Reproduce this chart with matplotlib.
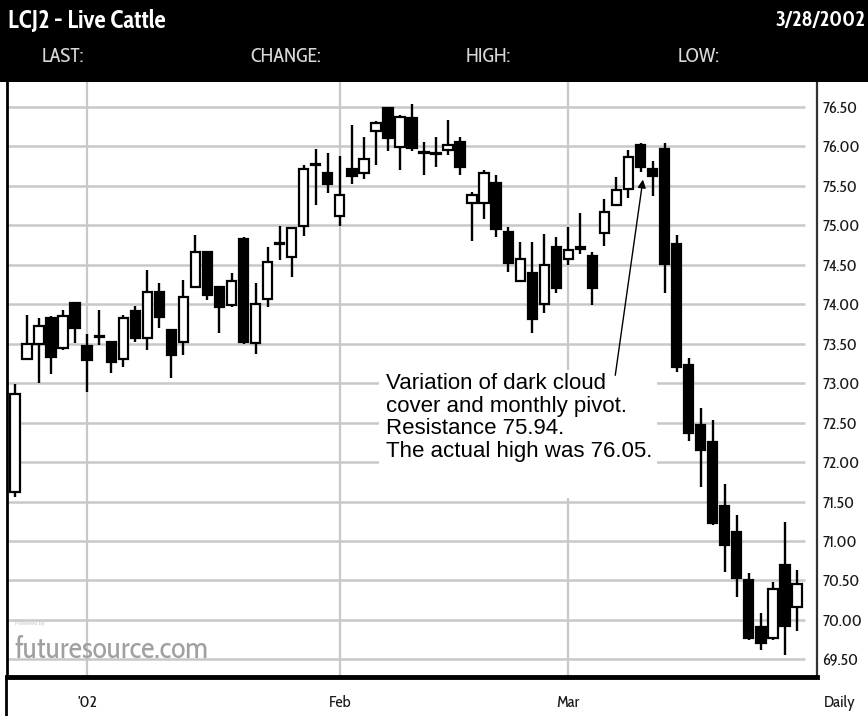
import matplotlib
matplotlib.use("Agg")
import matplotlib.pyplot as plt
import matplotlib.patheffects as pe
from matplotlib.patches import Rectangle
from matplotlib.lines import Line2D
from matplotlib import font_manager
from matplotlib.font_manager import FontProperties

# Daily OHLC for LCJ2 (Live Cattle), late Dec 2001 .. 3/28/2002
opens = [71.62, 73.31, 73.50, 73.83, 73.45, 74.02, 73.47, 73.60, 73.52, 73.31,
         73.91, 73.57, 74.16, 73.67, 73.52, 74.22, 74.66, 74.22, 73.99, 74.83,
         73.51, 74.07, 74.78, 74.60, 74.99, 75.76, 75.66, 75.12, 75.71, 75.66,
         76.20, 76.49, 75.99, 76.36, 75.93, 75.92, 75.96, 76.06, 75.28, 75.28,
         75.54, 74.92, 74.29, 74.40, 74.00, 74.73, 74.57, 74.70, 74.61, 74.90,
         75.26, 75.46, 76.02, 75.71, 75.97, 74.76, 73.23, 72.47, 72.25, 71.44,
         71.11, 70.51, 69.91, 69.77, 70.70, 70.16]
highs = [72.99, 73.86, 73.83, 73.85, 73.93, 74.03, 73.62, 73.93, 73.54, 73.86,
         73.98, 74.43, 74.27, 73.68, 74.31, 74.88, 74.68, 74.23, 74.40, 74.85,
         74.27, 74.73, 74.99, 74.98, 75.76, 75.97, 75.92, 75.88, 76.27, 76.12,
         76.32, 76.50, 76.40, 76.54, 76.06, 76.12, 76.34, 76.12, 75.42, 75.70,
         75.64, 74.98, 74.79, 74.79, 74.89, 74.85, 74.98, 75.16, 74.66, 75.33,
         75.61, 75.95, 76.05, 75.82, 76.05, 74.88, 73.32, 72.69, 72.53, 71.72,
         71.33, 70.59, 70.09, 70.48, 71.24, 70.63]
lows = [71.56, 73.29, 73.00, 73.12, 73.42, 73.51, 72.89, 73.48, 73.13, 73.20,
        73.52, 73.42, 73.70, 73.07, 73.36, 74.20, 74.05, 73.64, 73.97, 73.50,
        73.37, 73.97, 74.56, 74.35, 74.87, 75.26, 75.41, 74.99, 75.52, 75.59,
        75.76, 75.94, 75.70, 75.94, 75.64, 75.74, 75.89, 75.64, 74.80, 75.08,
        74.85, 74.41, 74.28, 73.64, 73.89, 74.14, 74.50, 74.64, 73.99, 74.74,
        75.25, 75.35, 75.68, 75.37, 74.14, 73.14, 72.27, 71.68, 71.20, 70.61,
        70.29, 69.75, 69.62, 69.75, 69.55, 69.86]
closes = [72.86, 73.50, 73.72, 73.33, 73.85, 73.70, 73.29, 73.58, 73.27, 73.83,
          73.57, 74.16, 73.84, 73.36, 74.09, 74.66, 74.12, 73.97, 74.29, 73.52,
          74.00, 74.54, 74.77, 74.97, 75.71, 75.77, 75.52, 75.38, 75.63, 75.84,
          76.30, 76.11, 76.37, 75.98, 75.92, 75.91, 76.02, 75.74, 75.38, 75.66,
          74.95, 74.52, 74.57, 73.81, 74.50, 74.21, 74.69, 74.72, 74.21, 75.17,
          75.45, 75.87, 75.74, 75.63, 74.51, 73.20, 72.37, 72.15, 71.23, 70.95,
          70.53, 69.77, 69.71, 70.39, 69.92, 70.45]

# Month boundaries (trading-day index) and their labels
month_idx = [6, 27, 46]
month_labels = ["'02", "Feb", "Mar"]

price_levels = [69.5, 70.0, 70.5, 71.0, 71.5, 72.0, 72.5, 73.0,
                73.5, 74.0, 74.5, 75.0, 75.5, 76.0, 76.5]
price_labels = [f"{p:.2f}" for p in price_levels]

header_fields = ["LAST:", "CHANGE:", "HIGH:", "LOW:"]
note = ("Variation of dark cloud\ncover and monthly pivot.\n"
        "Resistance 75.94.\nThe actual high was 76.05.")

W, H = 868, 716
fig = plt.figure(figsize=(W / 100, H / 100), dpi=100)
fig.patch.set_facecolor("white")
renderer = fig.canvas.get_renderer()


def fx(px):
    return px / W


def fy(py):
    return 1 - py / H


def text_width(text, size=10, **kw):
    probe = fig.text(0, 0, text, fontsize=size, **kw)
    w = probe.get_window_extent(renderer).width
    probe.remove()
    return w


def size_for(text, target_px, **kw):
    """Font size at which `text` spans about target_px pixels."""
    return 10.0 * target_px / text_width(text, **kw)


REGULAR = {400, "normal", "regular", "book"}
BOLD = {600, 700, 800, "bold", "semibold", "demibold"}


def narrow_font():
    """A regular-weight condensed sans, about as narrow as Arial Narrow."""
    entries = font_manager.fontManager.ttflist
    cands = set()
    for e in entries:
        if "Narrow" in e.name or "Condensed" in e.name:
            cands.add((e.name, "normal"))
        elif str(e.stretch) in ("condensed", "semi-condensed"):
            cands.add((e.name, e.stretch))
    em_px = 10 * 100 / 72.0
    best = ("Liberation Sans", "normal")
    best_score = abs(text_width("76.50", family="Liberation Sans") / em_px - 2.15) + 0.05
    for name, stretch in sorted(cands, key=str):
        faces = [e for e in entries if e.name == name
                 and (stretch == "normal" or e.stretch == stretch)]
        if not any(e.weight in REGULAR for e in faces):
            continue
        ratio = text_width("76.50", family=name, stretch=stretch) / em_px
        score = abs(ratio - 2.15) + (0 if any(e.weight in BOLD for e in faces) else 0.1)
        if score < best_score:
            best, best_score = (name, stretch), score
    return best


NARROW, STRETCH = narrow_font()
installed = {f.name for f in font_manager.fontManager.ttflist}
SANS = "Liberation Sans" if "Liberation Sans" in installed else "DejaVu Sans"
nkw = dict(family=NARROW, stretch=STRETCH)

regular_file = font_manager.findfont(FontProperties(**nkw))
bold_file = font_manager.findfont(FontProperties(weight="bold", **nkw))
if bold_file != regular_file:
    weight_kw, fx_kw = dict(fontweight="bold"), {}
else:
    # no bold cut of the condensed face: thicken the strokes instead
    weight_kw = {}
    fx_kw = dict(path_effects=[pe.withStroke(linewidth=1.4, foreground="white")])

# black header band
fig.patches.append(Rectangle((0, fy(82)), 1, 82 / H, transform=fig.transFigure,
                             facecolor="black", edgecolor="none", zorder=0))
title = "LCJ2 - Live Cattle"
fig.text(fx(8), fy(21), title, color="white",
         fontsize=size_for(title, 157, **nkw, **weight_kw),
         ha="left", va="center", **nkw, **weight_kw, **fx_kw)
fig.text(fx(865), fy(21), "3/28/2002", color="white",
         fontsize=size_for("3/28/2002", 90, **nkw, **weight_kw),
         ha="right", va="center", **nkw, **weight_kw, **fx_kw)
hdr_size = size_for("CHANGE:", 70, **nkw)
for label, cx in zip(header_fields, [63, 286, 488, 699]):
    fig.text(fx(cx), fy(57), label, color="#d8d8d8", fontsize=hdr_size,
             ha="center", va="center", **nkw)

ax = fig.add_axes([fx(7), 1 - 677 / H, 810 / W, 595 / H])
x_lo, x_hi = -0.665, 66.67
ax.set_xlim(x_lo, x_hi)
ax.set_ylim(69.276, 76.817)

grid_c = "#c8c8c8"
ax.hlines(price_levels, x_lo, 65.67, color=grid_c, lw=1.8, zorder=1)
for m in month_idx:
    ax.axvline(m, color=grid_c, lw=1.6, zorder=1)

# watermark
ax.text(0.0, 69.95, "Powered by", color="#c4c4c4",
        fontsize=size_for("Powered by", 30, family=SANS), family=SANS,
        ha="left", va="center", zorder=2)
ax.text(0.0, 69.62, "futuresource.com", color="#a0a0a0",
        fontsize=size_for("futuresource.com", 195, **nkw),
        ha="left", va="center", zorder=2, **nkw)

# annotation with a white backing box
ax.add_patch(Rectangle((30.3, 71.55), 23.1, 1.62, facecolor="white",
                       edgecolor="none", zorder=2))
ax.text(30.85, 73.13, note, family=SANS, color="black",
        fontsize=size_for("The actual high was 76.05.", 266, family=SANS),
        ha="left", va="top", linespacing=1.1, zorder=3)
ax.annotate("", xy=(52.2, 75.58), xytext=(49.9, 73.10),
            arrowprops=dict(arrowstyle="-|>", color="black", lw=1.0,
                            mutation_scale=12, shrinkA=0, shrinkB=0),
            zorder=3)

# candlesticks
xs = list(range(len(opens)))
ax.vlines(xs, lows, highs, color="black", lw=1.7, zorder=3)
bottoms = [min(o, c) for o, c in zip(opens, closes)]
heights = [max(abs(c - o), 0.012) for o, c in zip(opens, closes)]
faces = ["white" if c > o else "black" for o, c in zip(opens, closes)]
ax.bar(xs, heights, bottom=bottoms, width=0.78, color=faces,
       edgecolor="black", linewidth=1.6, zorder=4)

# axes frame and labels
tick_size = size_for("70.00", 40, **nkw)
ax.yaxis.tick_right()
ax.set_yticks(price_levels)
ax.set_yticklabels(price_labels, fontsize=tick_size, color="#1a1a1a", **nkw)
ax.tick_params(axis="y", length=0, pad=4)
ax.set_xticks([])
label_y = -(703 - 677) / 595
for m, lab in zip(month_idx, month_labels):
    ax.text(m, label_y, lab, transform=ax.get_xaxis_transform(),
            fontsize=tick_size, color="#1a1a1a", ha="center", va="center",
            clip_on=False, **nkw)
ax.spines["top"].set_visible(False)
ax.spines["left"].set_linewidth(2.0)
ax.spines["right"].set_linewidth(1.6)
ax.spines["right"].set_color("#333333")
ax.spines["bottom"].set_linewidth(3.5)

fig.text(fx(840), fy(703), "Daily", color="#1a1a1a", fontsize=tick_size,
         ha="center", va="center", **nkw)
fig.add_artist(Line2D([fx(6), fx(6)], [0, fy(677)], color="black", lw=2.0,
                      transform=fig.transFigure))

fig.savefig("out.png", dpi=100)
